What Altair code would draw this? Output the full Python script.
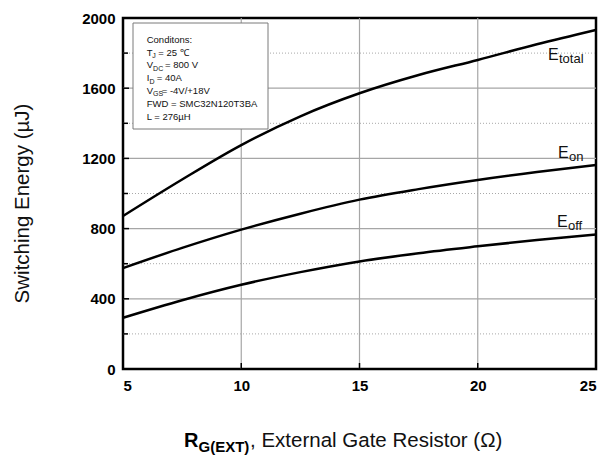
import altair as alt
import pandas as pd

# ---- data ----
rg = [5, 7.5, 10, 12.5, 15, 17.5, 20, 22.5, 25]
e_total = [872, 1080, 1276, 1440, 1571, 1675, 1761, 1850, 1932]
e_on = [575, 690, 794, 885, 965, 1025, 1077, 1122, 1162]
e_off = [292, 392, 480, 552, 613, 660, 699, 735, 766]

x_ticks = [5, 10, 15, 20, 25]
y_major = [0, 400, 800, 1200, 1600, 2000]
y_minor = [200, 600, 1000, 1400, 1800]

conditions = [
    [("Conditons:", 0)],
    [("T", 0), ("J", 1), ("= 25 ℃", 0)],
    [("V", 0), ("DC", 1), ("= 800 V", 0)],
    [("I", 0), ("D", 1), ("= 40A", 0)],
    [("V", 0), ("GS", 1), ("=  -4V/+18V", 0)],
    [("FWD = SMC32N120T3BA", 0)],
    [("L = 276µH", 0)],
]
series_labels = [("E", "total"), ("E", "on"), ("E", "off")]

# ---- layout ----
W, H = 473, 351
FONT = "Liberation Sans"
INK = "#111111"

rows = []
for name, vals in (("total", e_total), ("on", e_on), ("off", e_off)):
    for r, v in zip(rg, vals):
        rows.append({"rg": r, "energy": v, "series": name})
df = pd.DataFrame(rows)

x_scale = alt.Scale(domain=[5, 25], nice=False, zero=False)
y_scale = alt.Scale(domain=[0, 2000], nice=False)

x_axis = alt.Axis(
    values=x_ticks, title=None, grid=False,
    ticks=False, domain=False, labelFont=FONT, labelFontSize=15,
    labelFontWeight="bold", labelColor="black", labelPadding=9, format="d")
y_axis = alt.Axis(
    values=y_major, title="Switching Energy (µJ)", grid=False,
    ticks=False, domain=False, labelFont=FONT, labelFontSize=15,
    labelFontWeight="bold", labelColor="black", labelPadding=8, format="d",
    titleFont=FONT, titleFontSize=20.5, titleFontWeight="normal", titleColor=INK,
    titleAngle=270, titleBaseline="alphabetic", titleAlign="center",
    titleX=-95, titleY=185)

one = pd.DataFrame({"a": [0]})

lines = alt.Chart(df).mark_line(color="black", strokeWidth=2.5, interpolate="monotone").encode(
    x=alt.X("rg:Q", scale=x_scale, axis=x_axis),
    y=alt.Y("energy:Q", scale=y_scale, axis=y_axis),
    detail="series:N",
)

major_grid = alt.Chart(pd.DataFrame({"energy": [400, 800, 1200, 1600]})).mark_rule(
    color="#a6a6a6", strokeWidth=1.2).encode(
    y=alt.Y("energy:Q", scale=y_scale, axis=y_axis), x=alt.value(0), x2=alt.value(W))
x_grid = alt.Chart(pd.DataFrame({"rg": [10, 15, 20]})).mark_rule(
    color="#a6a6a6", strokeWidth=1.2).encode(
    x=alt.X("rg:Q", scale=x_scale, axis=x_axis), y=alt.value(0), y2=alt.value(H))
minor_grid = alt.Chart(pd.DataFrame({"energy": y_minor})).mark_rule(
    color="#a8a8a8", strokeDash=[1, 2], strokeWidth=1).encode(
    y=alt.Y("energy:Q", scale=y_scale, axis=y_axis), x=alt.value(0), x2=alt.value(W))

box = alt.Chart(one).mark_rect(fill="white", stroke="#7a7a7a", strokeWidth=1).encode(
    x=alt.value(10), x2=alt.value(145), y=alt.value(5), y2=alt.value(111))

major_ticks = alt.Chart(pd.DataFrame({"energy": y_major[1:-1]})).mark_rule(
    color="black", strokeWidth=1.5).encode(
    y=alt.Y("energy:Q", scale=y_scale, axis=y_axis), x=alt.value(0), x2=alt.value(6))
minor_ticks = alt.Chart(pd.DataFrame({"energy": y_minor})).mark_rule(
    color="black", strokeWidth=1.5).encode(
    y=alt.Y("energy:Q", scale=y_scale, axis=y_axis), x=alt.value(0), x2=alt.value(5))
x_tick_marks = alt.Chart(pd.DataFrame({"rg": x_ticks[1:-1]})).mark_rule(
    color="black", strokeWidth=1.5).encode(
    x=alt.X("rg:Q", scale=x_scale, axis=x_axis), y=alt.value(H), y2=alt.value(H - 6))


def txt(t, px, py, size, weight="normal", color=INK):
    return alt.Chart(one).mark_text(
        align="left", baseline="alphabetic", font=FONT, fontSize=size,
        fontWeight=weight, color=color).encode(
        x=alt.value(px), y=alt.value(py), text=alt.value(t))


texts = []
sub_widths = {"T": 5.5, "V": 6.4, "I": 2.9}
rest_x = {"J": 35.3, "DC": 42.0, "D": 33.7, "GS": 38.7}
for i, line in enumerate(conditions):
    base_y = 24.7 + i * 12.8
    if len(line) == 1:
        texts.append(txt(line[0][0], 23.7, base_y, 9.5))
    else:
        main, sub, rest = line[0][0], line[1][0], line[2][0]
        texts.append(txt(main, 23.7, base_y, 9.5))
        texts.append(txt(sub, 23.7 + sub_widths[main], base_y + 2.5, 7))
        texts.append(txt(rest, rest_x[sub], base_y, 9.5))

label_pos = [(425, 42), (435, 140), (434, 209)]
for (big, small), (px, py) in zip(series_labels, label_pos):
    texts.append(txt(big, px, py, 16))
    texts.append(txt(small, px + 11, py + 3, 13))

texts.append(txt("R", 61, 429, 20, "bold", "black"))
texts.append(txt("G(EXT)", 75.5, 434, 15, "bold", "black"))
texts.append(txt(", External Gate Resistor (Ω)", 127, 429, 20.5, "normal", INK))

chart = alt.layer(
    major_grid, x_grid, minor_grid, box, lines, major_ticks, minor_ticks, x_tick_marks, *texts
).properties(
    width=W, height=H,
    padding={"left": 123, "top": 18, "right": 10, "bottom": 88},
    autosize=alt.AutoSizeParams(type="none"),
    background="white",
).configure_view(stroke="black", strokeWidth=2.5)

chart.save("out.html", embed_options={"renderer": "svg", "actions": False})
